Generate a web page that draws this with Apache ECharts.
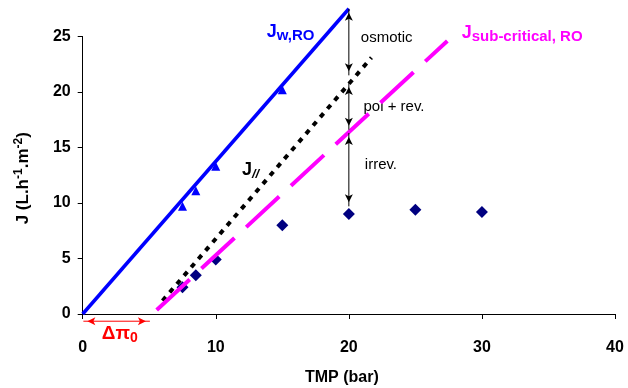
<!DOCTYPE html>
<html>
<head>
<meta charset="utf-8">
<script src="https://cdn.jsdelivr.net/npm/echarts@6/dist/echarts.min.js"></script>
<style>
  html, body { margin: 0; padding: 0; background: #fff; }
  #chart { width: 628px; height: 388px; }
</style>
</head>
<body>
<div id="chart"></div>
<script>
  // measured points
  const tmpTri = [7.5, 8.5, 10, 15]
  const jTri = [9.7, 11.1, 13.3, 20.2]
  const tmpDia = [7.5, 8.5, 10, 15, 20, 25, 30]
  const jDia = [2.4, 3.5, 4.9, 8.0, 9.0, 9.4, 9.2]
  // fitted lines (end points)
  const jwLine = [[0, 0], [20, 27.5]]
  const jParLine = [[6.0, 1.2], [21.7, 23.1]]
  const jSubLine = [[5.56, 0.36], [27.4, 24.6]]
  // vertical arrows at TMP = 20
  const arrowSpans = [[27.5, 21.5], [20.8, 16.6], [16.3, 9.7]]
  const arrowX = 20
  const noteText = ['osmotic', 'pol + rev.', 'irrev.']
  const notePos = [[20.9, 24.9], [21.1, 18.7], [21.2, 13.4]]
  // osmotic pressure offset arrow (delta pi 0)
  const dpiFrom = [0.05, -0.65]
  const dpiTo = [5.05, -0.65]
  const xTicks = [0, 10, 20, 30, 40]
  const yTicks = [0, 5, 10, 15, 20, 25]

  const chart = echarts.init(document.getElementById('chart'))
  const font = 'Liberation Sans, Arial, sans-serif'

  // arrow heads: 'arrow' symbol points up, shifted so the tip sits on the end point
  const head = (value, dir) => {
    const rot = { up: 0, down: 180, left: 90, right: -90 }[dir]
    const off = { up: [0, 4], down: [0, -4], left: [4, 0], right: [-4, 0] }[dir]
    return { value, symbolRotate: rot, symbolOffset: off }
  }
  const arrowData = []
  arrowSpans.forEach(s => {
    arrowData.push(head([arrowX, s[0]], 'up'), head([arrowX, s[1]], 'down'), [arrowX, '-'])
  })

  const arrowSeries = (data, color) => ({
    type: 'line', data, clip: false, silent: true, connectNulls: false,
    symbol: 'arrow', symbolSize: [6, 8], showSymbol: true, showAllSymbol: true,
    itemStyle: { color },
    lineStyle: { color, width: 1 }
  })

  const option = {
    animation: false,
    grid: { left: 82.7, right: 13, top: 36.5, bottom: 74, outerBoundsMode: 'none' },
    xAxis: {
      type: 'value',
      min: xTicks[0], max: xTicks[xTicks.length - 1], interval: 10,
      name: 'TMP (bar)',
      nameLocation: 'middle',
      nameGap: 56,
      nameTextStyle: { fontFamily: font, fontWeight: 'bold', fontSize: 16, color: '#000', padding: [0, 14, 0, 0] },
      axisLine: { lineStyle: { color: '#000', width: 1 } },
      axisTick: { length: 5, lineStyle: { color: '#000' } },
      axisLabel: { fontFamily: font, fontWeight: 'bold', fontSize: 16, color: '#000', margin: 26 },
      splitLine: { show: false }
    },
    yAxis: {
      type: 'value',
      min: yTicks[0], max: yTicks[yTicks.length - 1], interval: 5,
      name: 'J (L.h{s|-1}.m{s|-2})',
      nameLocation: 'middle',
      nameGap: 49,
      nameRotate: 90,
      nameTextStyle: {
        fontFamily: font, fontWeight: 'bold', fontSize: 17, color: '#000', lineHeight: 21, padding: [0, 6, 0, 0],
        rich: { s: { fontFamily: font, fontWeight: 'bold', fontSize: 12, color: '#000', verticalAlign: 'top', lineHeight: 12 } }
      },
      axisLine: { show: true, lineStyle: { color: '#000', width: 1 } },
      axisTick: { show: true, length: 5, lineStyle: { color: '#000' } },
      axisLabel: { fontFamily: font, fontWeight: 'bold', fontSize: 16, color: '#000', margin: 12 },
      splitLine: { show: false }
    },
    series: [
      {
        type: 'line', data: jwLine, showSymbol: false, clip: false, silent: true,
        lineStyle: { color: '#0000FF', width: 3.5 }
      },
      {
        type: 'line', data: jParLine, showSymbol: false, clip: false, silent: true,
        lineStyle: { color: '#000', width: 4, type: [5, 6], cap: 'butt' }
      },
      {
        type: 'line', data: jSubLine, showSymbol: false, clip: false, silent: true,
        lineStyle: { color: '#FF00FF', width: 4, type: [45, 16], cap: 'butt' }
      },
      {
        type: 'scatter', symbol: 'triangle', symbolSize: 9,
        itemStyle: { color: '#0000FF', opacity: 1 },
        data: tmpTri.map((x, i) => [x, jTri[i]])
      },
      {
        type: 'scatter', symbol: 'diamond', symbolSize: 12,
        itemStyle: { color: '#000080', opacity: 1 },
        data: tmpDia.map((x, i) => [x, jDia[i]])
      },
      arrowSeries(arrowData, '#000'),
      arrowSeries([head(dpiFrom, 'left'), head(dpiTo, 'right')], '#FF0000')
    ]
  }
  chart.setOption(option)

  const px = p => chart.convertToPixel({ gridIndex: 0 }, p)
  const richText = (pos, text, rich) => {
    const [x, y] = px(pos)
    return {
      type: 'text', x, y, silent: true,
      style: { text, rich, fontFamily: font, verticalAlign: 'middle', align: 'left' }
    }
  }
  const main = (c, size) => ({ fontFamily: font, fontWeight: 'bold', fontSize: size, fill: c, lineHeight: 22 })
  const sub = (c, size, extra) => Object.assign({ fontFamily: font, fontWeight: 'bold', fontSize: size, fill: c, verticalAlign: 'bottom', lineHeight: 10 }, extra || {})

  const graphic = []
  noteText.forEach((t, i) => {
    const [x, y] = px(notePos[i])
    graphic.push({
      type: 'text', x, y, silent: true,
      style: { text: t, fontFamily: font, fontSize: 15, fill: '#000', verticalAlign: 'middle', align: 'left' }
    })
  })
  graphic.push(richText([13.83, 25.4], '{j|J}{s|w,RO}', { j: main('#0000FF', 18), s: sub('#0000FF', 15) }))
  graphic.push(richText([28.48, 25.3], '{j|J}{s|sub-critical, RO}', { j: main('#FF00FF', 18), s: sub('#FF00FF', 15) }))
  graphic.push(richText([11.97, 12.97], '{j|J}{s|//}', { j: main('#000', 18), s: sub('#000', 13, { fontStyle: 'italic' }) }))
  graphic.push(richText([1.43, -1.8], '{j|Δπ}{s|0}', { j: main('#FF0000', 19), s: sub('#FF0000', 14) }))
  chart.setOption({ graphic })
</script>
</body>
</html>
